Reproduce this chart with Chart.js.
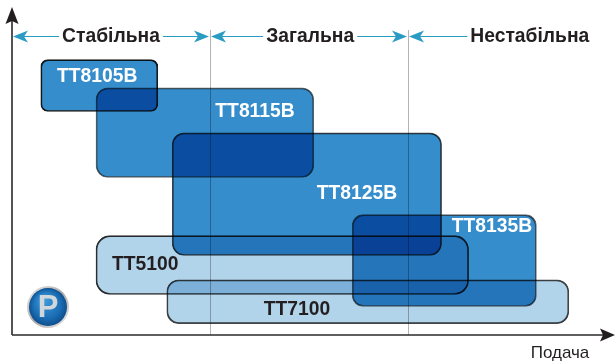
<!DOCTYPE html>
<html><head><meta charset="utf-8">
<style>html,body{margin:0;padding:0;background:#fff}#w{position:relative;width:616px;height:362px}</style>
<script src="https://cdn.jsdelivr.net/npm/chart.js@4/dist/chart.umd.min.js"></script>
</head><body><div id="w"><canvas id="c" width="616" height="362"></canvas></div>
<script>
const names   = ['TT8105B','TT8115B','TT8125B','TT8135B','TT5100','TT7100'];
const feedLow  = [4.8,14,26.7,56.7,14,25.8];
const feedHigh = [24.3,50.3,71.6,87.4,76.1,92.8];
const loadLow  = [74.5,52.5,26.5,9.5,13.5,3.8];
const loadHigh = [91.8,82.4,67.4,40.1,33.1,18.4];
const labelFeed = [14.2,40.5,57.5,80,22.2,47.5];
const labelLoad = [86.1,74.5,47.1,36.1,23.5,8.5];
const zoneNames = ['Стабільна','Загальна','Нестабільна'];
const zoneBounds = [0,33,66,100];
const zoneLabelCenters = [16.5,49.7,86.3];
const axisTitle = 'Подача';

const lightBox = [false,false,false,false,true,true];
const radii = [7,12,12,11,14,12];
const borders = ['#1c1c1c','#666666','#444444','#666666','#2e2e2e','#444444'];
const FONT = '"Liberation Sans", Arial, sans-serif';

const datasets = names.map((n,i)=>({
  label:n,
  data:[{x:[feedLow[i],feedHigh[i]],y:(loadLow[i]+loadHigh[i])/2}],
  backgroundColor: lightBox[i] ? '#B2D4EB' : '#358DCB',
  borderColor: borders[i],
  borderWidth:1,
  borderSkipped:false,
  borderRadius:radii[i],
  grouped:false,
  barThickness:(ctx)=>{const y=ctx.chart.scales.y;return Math.abs(y.getPixelForValue(loadHigh[i])-y.getPixelForValue(loadLow[i]));}
}));

function arrowHead(ctx,x,y,dir,len,half,notch){
  ctx.beginPath();ctx.moveTo(x,y);
  ctx.lineTo(x-dir*len,y-half);ctx.lineTo(x-dir*(len-notch),y);ctx.lineTo(x-dir*len,y+half);
  ctx.closePath();ctx.fill();
}

const art = {
  id:'art',
  beforeDraw(chart){const c=chart.ctx;c.save();c.fillStyle='#fff';c.fillRect(0,0,chart.width,chart.height);c.restore();},
  beforeDatasetsDraw(chart){
    const c=chart.ctx,{x,y}=chart.scales;
    c.save();
    c.strokeStyle='#b4b4b4';c.lineWidth=1;
    [zoneBounds[1],zoneBounds[2]].forEach(v=>{
      const p=Math.round(x.getPixelForValue(v))+.5;
      c.beginPath();c.moveTo(p,30);c.lineTo(p,y.getPixelForValue(0));c.stroke();
    });
    c.globalCompositeOperation='multiply';
  },
  afterDatasetsDraw(chart){
    const c=chart.ctx,{x,y}=chart.scales;
    c.restore();
    c.save();
    // axes
    const x0=x.getPixelForValue(0),y0=y.getPixelForValue(0);
    c.strokeStyle='#2a2a2a';c.fillStyle='#231f20';c.lineWidth=1.6;
    c.beginPath();c.moveTo(x0,y0);c.lineTo(chart.chartArea.right-6,y0);c.stroke();
    c.beginPath();c.moveTo(x0,y0);c.lineTo(x0,16);c.stroke();
    arrowHead(c,chart.chartArea.right+3,y0,1,15,6.5,3);
    c.beginPath();c.moveTo(x0,7);c.lineTo(x0-6.5,24);c.lineTo(x0,21);c.lineTo(x0+6.5,24);c.closePath();c.fill();
    // zone arrows
    const yz=36.5;
    c.font='bold 19.3px '+FONT;c.textAlign='center';c.textBaseline='middle';
    zoneNames.forEach((n,i)=>{
      const cx=x.getPixelForValue(zoneLabelCenters[i]),w=c.measureText(n).width;
      const a=x.getPixelForValue(zoneBounds[i])+1,b=x.getPixelForValue(zoneBounds[i+1])-1;
      c.fillStyle='#231f20';c.fillText(n,cx,yz);
      c.strokeStyle='#2a9cc4';c.lineWidth=1.2;
      c.beginPath();c.moveTo(a+6,yz);c.lineTo(cx-w/2-3,yz);c.stroke();
      c.fillStyle='#2a9cc4';
      arrowHead(c,a,yz,-1,15,6,4);
      if(i<zoneNames.length-1){
        c.strokeStyle='#2a9cc4';
        c.beginPath();c.moveTo(cx+w/2+3,yz);c.lineTo(b-6,yz);c.stroke();
        arrowHead(c,b,yz,1,15,6,4);
      }
    });
    // box labels
    c.font='bold 19.3px '+FONT;
    names.forEach((n,i)=>{
      c.fillStyle=lightBox[i]?'#231f20':'#ffffff';
      c.fillText(n,x.getPixelForValue(labelFeed[i]),y.getPixelForValue(labelLoad[i]));
    });
    // axis title
    c.font='17px '+FONT;c.fillStyle='#231f20';c.fillText(axisTitle,560,353);
    // badge
    const bx=48,by=307;
    let g=c.createLinearGradient(bx-20,by-20,bx+20,by+20);
    g.addColorStop(0,'#ececec');g.addColorStop(.5,'#a8a8a8');g.addColorStop(1,'#ececec');
    c.fillStyle=g;c.beginPath();c.arc(bx,by,21,0,Math.PI*2);c.fill();
    g=c.createRadialGradient(bx-4,by-8,2,bx,by,19);
    g.addColorStop(0,'#3c9ad8');g.addColorStop(.7,'#1a6db4');g.addColorStop(1,'#0f4f8e');
    c.fillStyle=g;c.beginPath();c.arc(bx,by,19,0,Math.PI*2);c.fill();
    c.font='bold 31px '+FONT;c.fillStyle='#cfd6dc';c.fillText('P',bx,by+1);
    c.restore();
  }
};

new Chart(document.getElementById('c'),{
  type:'bar',
  data:{datasets},
  plugins:[art],
  options:{
    indexAxis:'y',responsive:false,animation:false,
    layout:{padding:{left:12,right:4,top:8,bottom:27}},
    scales:{
      x:{type:'linear',min:0,max:100,display:false},
      y:{type:'linear',min:0,max:109,display:false,offset:false}
    },
    plugins:{legend:{display:false},tooltip:{enabled:false}}
  }
});
</script></body></html>
